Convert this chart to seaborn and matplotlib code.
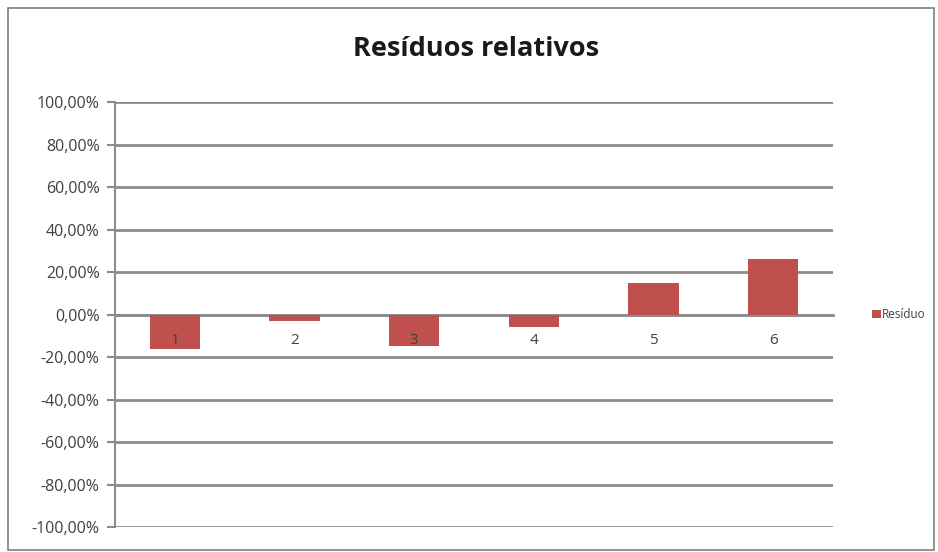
import matplotlib
matplotlib.use("Agg")
import matplotlib.pyplot as plt
from matplotlib.patches import Rectangle
from matplotlib.ticker import FixedLocator, FuncFormatter
import seaborn as sns
import pandas as pd

# Relative residuals per observation
categories = ["1", "2", "3", "4", "5", "6"]
residuals = [-0.16, -0.03, -0.15, -0.06, 0.15, 0.26]
series_name = "Resíduo"
title = "Resíduos relativos"

df = pd.DataFrame({"obs": categories, "res": residuals, "serie": series_name})

sns.set_style("white")
plt.rcParams["font.family"] = ["Open Sans", "DejaVu Sans"]

bar_color = "#C0504D"
grid_color = "#8C8C8C"
text_color = "#404040"

fig = plt.figure(figsize=(9.38, 5.52), dpi=100)
ax = fig.add_axes([0.1226, 0.0453, 0.7654, 0.7697])

sns.barplot(data=df, x="obs", y="res", hue="serie", palette=[bar_color],
            width=0.42, ax=ax, legend=True, saturation=1, linewidth=0)

ax.set_ylim(-1.0, 1.0)
ax.set_xlim(-0.5, len(categories) - 0.5)
ax.yaxis.set_major_locator(FixedLocator([i / 5 for i in range(-5, 6)]))
ax.yaxis.set_major_formatter(
    FuncFormatter(lambda v, _: f"{v * 100:.2f}%".replace(".", ",").replace("-0,00", "0,00")))
ax.grid(axis="y", color=grid_color, linewidth=2.0)
ax.set_axisbelow(True)
ax.set_xlabel("")
ax.set_ylabel("")

# Category axis sits on the zero line, ticks at category boundaries
for s in ["top", "right"]:
    ax.spines[s].set_visible(False)
ax.spines["bottom"].set_position(("data", 0))
ax.spines["bottom"].set_color(grid_color)
ax.spines["bottom"].set_linewidth(2.0)
ax.spines["left"].set_color(grid_color)
ax.spines["left"].set_linewidth(1.5)
ax.spines["bottom"].set_zorder(0.5)

ax.set_xticks(range(len(categories)))
ax.set_xticklabels([])
ax.set_xticks([i + 0.5 for i in range(-1, len(categories))], minor=True)
ax.tick_params(axis="x", which="major", length=0)
ax.tick_params(axis="x", which="minor", length=5, width=1, color=grid_color, direction="out")
ax.tick_params(axis="y", length=6, width=1.5, color=grid_color, left=True, labelsize=11.5,
               labelcolor=text_color, pad=5)

# Category labels drawn on top of the bars, just under the zero line
for i, lab in enumerate(categories):
    ax.annotate(lab, xy=(i, 0), xytext=(0, -19), textcoords="offset points",
                ha="center", va="center", fontsize=11, color=text_color, zorder=6)

fig.suptitle(title, x=0.508, y=0.935, fontsize=19.5, fontweight="bold", color="#1a1a1a")

leg = ax.legend(loc="center left", bbox_to_anchor=(1.04, 0.5), frameon=False,
                fontsize=8.5, handlelength=0.7, handleheight=0.7, handletextpad=0.1,
                labelcolor=text_color)

# Chart frame
fig.patches.append(Rectangle((0.008, 0.004), 0.988, 0.982, transform=fig.transFigure,
                             fill=False, edgecolor="#7f7f7f", linewidth=1.2))

fig.savefig("out.png", dpi=100)
